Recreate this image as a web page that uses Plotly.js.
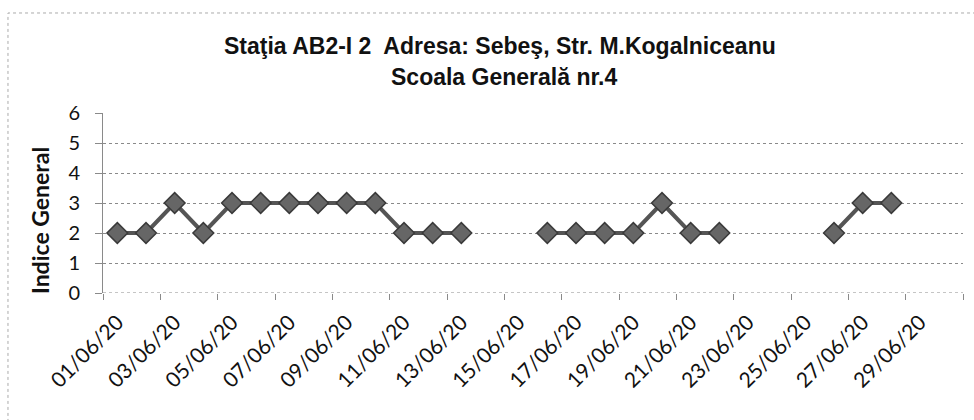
<!DOCTYPE html>
<html>
<head>
<meta charset="utf-8">
<script src="https://cdn.plot.ly/plotly-3.0.1.min.js"></script>
<style>
html,body{margin:0;padding:0;background:#fff;}
#chart{width:974px;height:420px;}
</style>
</head>
<body>
<div id="chart"></div>
<script>
// Data
const dates = [
  "2020-06-01","2020-06-02","2020-06-03","2020-06-04","2020-06-05","2020-06-06",
  "2020-06-07","2020-06-08","2020-06-09","2020-06-10","2020-06-11","2020-06-12",
  "2020-06-13","2020-06-14","2020-06-15","2020-06-16","2020-06-17","2020-06-18",
  "2020-06-19","2020-06-20","2020-06-21","2020-06-22","2020-06-23","2020-06-24",
  "2020-06-25","2020-06-26","2020-06-27","2020-06-28","2020-06-29","2020-06-30"
];
const indiceGeneral = [
  2, 2, 3, 2, 3, 3,
  3, 3, 3, 3, 2, 2,
  2, null, null, 2, 2, 2,
  2, 3, 2, 2, null, null,
  null, 2, 3, 3, null, null
];
const tickDates = ["2020-06-01","2020-06-03","2020-06-05","2020-06-07","2020-06-09",
  "2020-06-11","2020-06-13","2020-06-15","2020-06-17","2020-06-19","2020-06-21",
  "2020-06-23","2020-06-25","2020-06-27","2020-06-29"];
const tickLabels = ["01/06/20","03/06/20","05/06/20","07/06/20","09/06/20",
  "11/06/20","13/06/20","15/06/20","17/06/20","19/06/20","21/06/20",
  "23/06/20","25/06/20","27/06/20","29/06/20"];
const boundaryDates = ["2020-05-31 12:00","2020-06-02 12:00","2020-06-04 12:00","2020-06-06 12:00",
  "2020-06-08 12:00","2020-06-10 12:00","2020-06-12 12:00","2020-06-14 12:00",
  "2020-06-16 12:00","2020-06-18 12:00","2020-06-20 12:00","2020-06-22 12:00",
  "2020-06-24 12:00","2020-06-26 12:00","2020-06-28 12:00","2020-06-30 12:00"];
const titleLine1 = "Staţia AB2-I 2  Adresa: Sebeş, Str. M.Kogalniceanu";
const titleLine2 = "Scoala Generală nr.4";
const yTitle = "Indice General";

const trace = {
  x: dates,
  y: indiceGeneral,
  type: "scatter",
  mode: "lines+markers",
  connectgaps: false,
  line: {color: "#555555", width: 4},
  marker: {symbol: "diamond", size: 16, color: "#666666", line: {color: "#3a3a3a", width: 1.5}},
  hoverinfo: "x+y"
};

const gridCol = "#8a8a8a";
const titleFont = {family: "Liberation Sans, Arial, sans-serif", size: 23, color: "#111", weight: "bold"};
const layout = {
  width: 974, height: 420,
  margin: {l: 103, r: 11, t: 113, b: 127},
  paper_bgcolor: "#fff", plot_bgcolor: "#fff",
  showlegend: false,
  xaxis: {
    type: "date",
    range: ["2020-05-31 12:00", "2020-06-30 12:00"],
    tickmode: "array",
    tickvals: tickDates,
    ticktext: tickLabels,
    tickangle: -45,
    ticks: "",
    ticklabelstandoff: 12,
    tickfont: {family: "Lato, Open Sans, sans-serif", size: 21, color: "#111"},
    showgrid: false,
    zeroline: false,
    showline: false,
    minor: {
      tickmode: "array",
      tickvals: boundaryDates,
      ticks: "outside", ticklen: 6, tickcolor: gridCol, tickwidth: 1, showgrid: false
    },
    fixedrange: true
  },
  yaxis: {
    range: [0, 6],
    dtick: 1,
    tick0: 0,
    showgrid: true,
    gridcolor: gridCol,
    griddash: "dot",
    gridwidth: 1,
    zeroline: false,
    showline: true,
    linecolor: gridCol,
    linewidth: 1,
    ticks: "outside",
    ticklen: 7,
    tickcolor: gridCol,
    ticklabelstandoff: 11,
    tickfont: {family: "Lato, Open Sans, sans-serif", size: 20, color: "#111"},
    fixedrange: true
  },
  annotations: [
    {text: titleLine1, xref: "paper", yref: "paper", x: (500 - 103) / 860, y: 1.37,
     xanchor: "center", yanchor: "middle", showarrow: false, font: titleFont},
    {text: titleLine2, xref: "paper", yref: "paper", x: (504 - 103) / 860, y: 1.20,
     xanchor: "center", yanchor: "middle", showarrow: false, font: titleFont},
    {text: yTitle, xref: "paper", yref: "paper", x: (40 - 103) / 860, y: 0.4,
     xanchor: "center", yanchor: "middle", textangle: -90, showarrow: false,
     font: {family: "Lato, Open Sans, sans-serif", size: 23, color: "#111", weight: "bold"}}
  ],
  shapes: [
    {type: "line", xref: "paper", yref: "y", x0: 0, x1: 1, y0: 0, y1: 0,
     line: {color: gridCol, width: 1, dash: "dot"}, layer: "below"},
    {type: "rect", xref: "paper", yref: "paper", x0: -0.1105, x1: 1.05, y0: -1.0, y1: 1.5556,
     line: {color: "#aaaaaa", width: 1, dash: "dot"}, fillcolor: "rgba(0,0,0,0)", layer: "below"}
  ]
};

Plotly.newPlot("chart", [trace], layout, {displayModeBar: false, staticPlot: true});
</script>
</body>
</html>
